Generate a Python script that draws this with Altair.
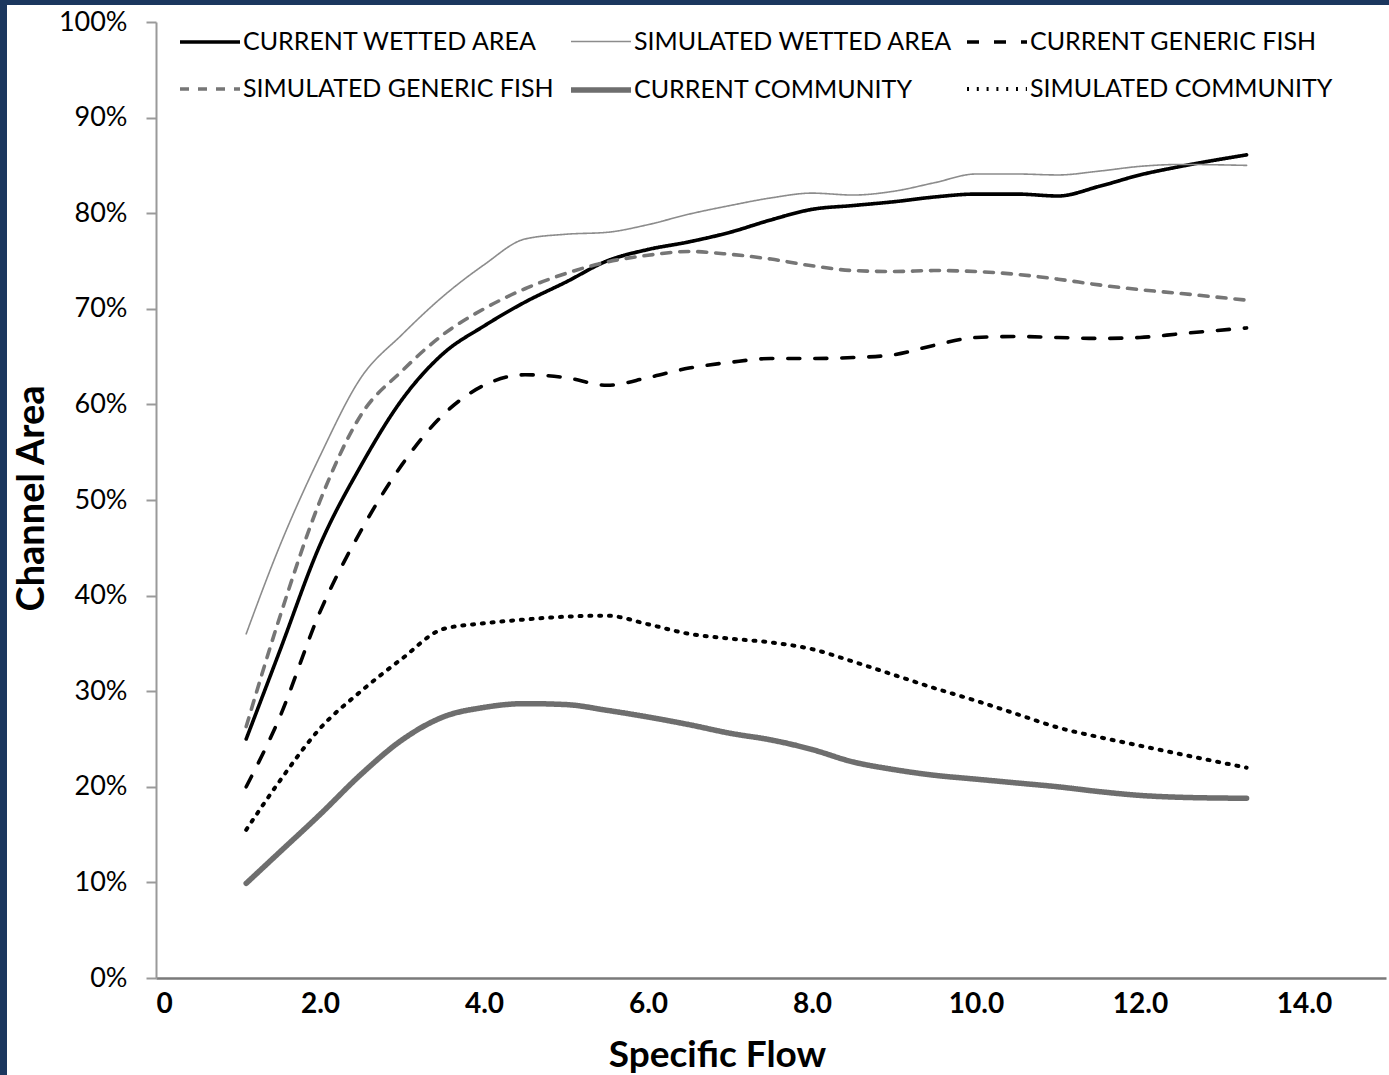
import altair as alt
import pandas as pd

flow = [1.1, 1.5, 2.0, 2.5, 3.0, 3.5, 4.0, 4.5, 5.0, 5.5, 6.0, 6.5, 7.0,
        7.5, 8.0, 8.5, 9.0, 9.5, 10.0, 10.5, 11.0, 11.5, 12.0, 12.5, 13.3]

current_wetted = [25.0, 34.0, 45.3, 53.6, 60.5, 65.3, 68.2, 70.7, 72.8, 75.0, 76.2, 77.0, 78.0,
                  79.3, 80.4, 80.8, 81.2, 81.7, 82.0, 82.0, 81.8, 82.8, 84.0, 84.9, 86.1]
simulated_wetted = [36.0, 45.0, 54.6, 62.8, 67.3, 71.3, 74.6, 77.3, 77.8, 78.0, 78.8, 79.9, 80.8,
                    81.6, 82.1, 81.9, 82.3, 83.2, 84.1, 84.1, 84.0, 84.4, 84.9, 85.1, 85.0]
current_fish = [20.0, 27.1, 38.3, 46.8, 53.7, 58.9, 62.0, 63.1, 62.8, 62.0, 62.8, 63.8, 64.4,
                64.8, 64.8, 64.9, 65.2, 66.2, 67.0, 67.1, 67.0, 66.9, 67.0, 67.4, 68.0]
simulated_fish = [26.3, 37.5, 49.9, 58.9, 63.5, 67.3, 70.0, 72.1, 73.7, 74.9, 75.6, 76.0, 75.7,
                  75.2, 74.5, 74.0, 73.9, 74.0, 73.9, 73.6, 73.1, 72.5, 72.0, 71.6, 70.9]
current_community = [9.9, 13.1, 17.1, 21.3, 24.9, 27.3, 28.3, 28.7, 28.6, 28.0, 27.3, 26.5, 25.6,
                     24.9, 23.9, 22.6, 21.8, 21.2, 20.8, 20.4, 20.0, 19.5, 19.1, 18.9, 18.8]
simulated_community = [15.5, 20.5, 26.1, 30.0, 33.4, 36.5, 37.1, 37.5, 37.8, 37.9, 37.0, 36.0, 35.5,
                       35.1, 34.4, 33.1, 31.7, 30.3, 29.0, 27.6, 26.2, 25.2, 24.3, 23.4, 22.0]

series_names = ["CURRENT WETTED AREA", "SIMULATED WETTED AREA", "CURRENT GENERIC FISH",
                "SIMULATED GENERIC FISH", "CURRENT COMMUNITY", "SIMULATED COMMUNITY"]
series_values = [current_wetted, simulated_wetted, current_fish,
                 simulated_fish, current_community, simulated_community]

y_ticks = [0, 10, 20, 30, 40, 50, 60, 70, 80, 90, 100]
x_ticks = [0, 2, 4, 6, 8, 10, 12, 14]

colors = ["#000000", "#8c8c8c", "#000000", "#767676", "#6e6e6e", "#000000"]
dashes = [[1, 0], [1, 0], [12, 15], [9, 9], [1, 0], [2, 7.8]]
widths = [3.6, 1.6, 3.6, 3.6, 5.5, 4.0]

rows = []
for name, vals in zip(series_names, series_values):
    for f, v in zip(flow, vals):
        rows.append({"series": name, "flow": f, "area": v})
df = pd.DataFrame(rows)

FONT = "Lato"
legend = alt.Legend(
    title=None, orient="none", legendX=21, legendY=-12, columns=3, direction="horizontal",
    gridAlign="each", symbolType="stroke", symbolSize=3600, labelFontSize=25, labelFont=FONT,
    labelColor="#000000", labelLimit=600, columnPadding=6, rowPadding=2,
    labelOffset=0, padding=0,
)

lines = alt.Chart(df).mark_line(interpolate="monotone", strokeCap="round", strokeJoin="round").encode(
    x=alt.X("flow:Q", scale=alt.Scale(domain=[0, 15], nice=False, zero=True),
            axis=alt.Axis(values=x_ticks, title="Specific Flow",
                          labelExpr="datum.value == 0 ? '0' : format(datum.value, '.1f')",
                          ticks=False, labelPadding=12, labelFont=FONT, labelFontSize=28,
                          labelFontWeight="bold", labelColor="#000000",
                          domainColor="#7a7a7a", domainWidth=2.5,
                          titleFont=FONT, titleFontSize=37, titleFontWeight="bold",
                          titleColor="#000000", titleX=561, titleY=88,
                          titleBaseline="alphabetic", titleAnchor="start", titleAlign="center",
                          grid=False)),
    y=alt.Y("area:Q", scale=alt.Scale(domain=[0, 100], nice=False),
            axis=alt.Axis(values=y_ticks, title="Channel Area",
                          labelExpr="datum.value + '%'",
                          tickSize=10, tickColor="#9a9a9a", tickWidth=2,
                          domainColor="#9a9a9a", domainWidth=2,
                          labelPadding=19, labelFont=FONT, labelFontSize=27,
                          labelColor="#000000",
                          titleFont=FONT, titleFontSize=38, titleFontWeight="bold",
                          titleColor="#000000", titleX=-113, titleY=476,
                          titleAngle=270, titleBaseline="alphabetic", titleAlign="center",
                          grid=False)),
    color=alt.Color("series:O", sort=series_names,
                    scale=alt.Scale(type="ordinal", domain=series_names, range=colors), legend=legend),
    strokeDash=alt.StrokeDash("series:O", sort=series_names,
                              scale=alt.Scale(type="ordinal", domain=series_names, range=dashes), legend=legend),
    strokeWidth=alt.StrokeWidth("series:O", sort=series_names,
                                scale=alt.Scale(type="ordinal", domain=series_names, range=widths), legend=legend),
)

frame_df = pd.DataFrame({"k": [0]})
left_strip = alt.Chart(frame_df).mark_rect(color="#1b375e").encode(
    x=alt.value(-156), x2=alt.value(-149), y=alt.value(-22), y2=alt.value(1053))
top_strip = alt.Chart(frame_df).mark_rect(color="#1b375e").encode(
    x=alt.value(-156), x2=alt.value(1233), y=alt.value(-22), y2=alt.value(-17))

chart = alt.layer(left_strip, top_strip, lines).properties(
    width=1230, height=956,
    autosize="none",
    padding={"left": 156, "top": 22, "right": 3, "bottom": 97},
    background="white",
).configure_view(stroke=None)

chart.save("out.html", embed_options={"renderer": "svg", "actions": False})
